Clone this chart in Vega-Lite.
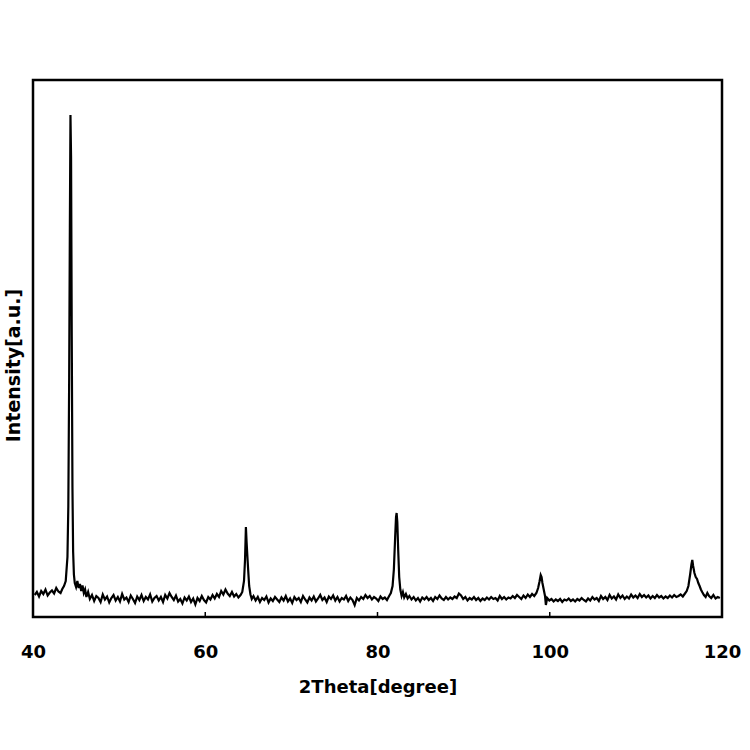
{
  "$schema": "https://vega.github.io/schema/vega-lite/v6.json",
  "autosize": "none",
  "width": 689,
  "height": 537,
  "padding": {"left": 33, "top": 80, "right": 28, "bottom": 133},
  "background": "white",
  "config": {
    "view": {"stroke": "black", "strokeWidth": 2.5},
    "font": "DejaVu Sans"
  },
  "datasets": {
    "ticks": [{"t": 60, "y0": 0, "y1": 10}, {"t": 80, "y0": 0, "y1": 10}, {"t": 100, "y0": 0, "y1": 10}],
    "xrd": [
    {"t":40.2,"i":44},{"t":40.45,"i":50},{"t":40.7,"i":41},{"t":40.95,"i":52},{"t":41.2,"i":46},{"t":41.45,"i":55},{"t":41.7,"i":43},{"t":41.95,"i":49},{"t":42.2,"i":53},{"t":42.45,"i":47},{"t":42.7,"i":58},{"t":42.95,"i":51},{"t":43.2,"i":48},{"t":43.4,"i":56},{"t":43.6,"i":62},{"t":43.8,"i":72},{"t":44.0,"i":120},{"t":44.1,"i":220},{"t":44.2,"i":480},{"t":44.28,"i":780},{"t":44.35,"i":1004},{"t":44.42,"i":920},{"t":44.5,"i":560},{"t":44.58,"i":260},{"t":44.66,"i":130},{"t":44.75,"i":85},{"t":44.85,"i":68},{"t":45.0,"i":60},{"t":45.15,"i":72},{"t":45.3,"i":58},{"t":45.45,"i":66},{"t":45.6,"i":52},{"t":45.75,"i":63},{"t":45.9,"i":48},{"t":46.05,"i":55},{"t":46.2,"i":40},{"t":46.4,"i":50},{"t":46.6,"i":36},{"t":46.85,"i":44},{"t":47.1,"i":32},{"t":47.35,"i":42},{"t":47.6,"i":38},{"t":47.85,"i":30},{"t":48.1,"i":45},{"t":48.35,"i":35},{"t":48.6,"i":41},{"t":48.85,"i":29},{"t":49.1,"i":38},{"t":49.35,"i":44},{"t":49.6,"i":33},{"t":49.85,"i":40},{"t":50.1,"i":31},{"t":50.35,"i":46},{"t":50.6,"i":35},{"t":50.85,"i":39},{"t":51.1,"i":30},{"t":51.35,"i":43},{"t":51.6,"i":36},{"t":51.85,"i":28},{"t":52.1,"i":41},{"t":52.35,"i":34},{"t":52.6,"i":44},{"t":52.85,"i":32},{"t":53.1,"i":40},{"t":53.35,"i":35},{"t":53.6,"i":45},{"t":53.85,"i":31},{"t":54.1,"i":38},{"t":54.35,"i":42},{"t":54.6,"i":33},{"t":54.85,"i":40},{"t":55.1,"i":30},{"t":55.35,"i":44},{"t":55.6,"i":37},{"t":55.85,"i":48},{"t":56.1,"i":40},{"t":56.35,"i":34},{"t":56.6,"i":43},{"t":56.85,"i":31},{"t":57.1,"i":36},{"t":57.35,"i":27},{"t":57.6,"i":39},{"t":57.85,"i":33},{"t":58.1,"i":41},{"t":58.35,"i":30},{"t":58.6,"i":37},{"t":58.85,"i":25},{"t":59.1,"i":38},{"t":59.35,"i":32},{"t":59.6,"i":42},{"t":59.85,"i":34},{"t":60.1,"i":29},{"t":60.35,"i":40},{"t":60.6,"i":35},{"t":60.85,"i":44},{"t":61.1,"i":37},{"t":61.35,"i":46},{"t":61.6,"i":40},{"t":61.85,"i":52},{"t":62.1,"i":45},{"t":62.35,"i":55},{"t":62.6,"i":47},{"t":62.85,"i":42},{"t":63.1,"i":50},{"t":63.35,"i":41},{"t":63.6,"i":46},{"t":63.85,"i":39},{"t":64.1,"i":44},{"t":64.3,"i":50},{"t":64.5,"i":72},{"t":64.62,"i":115},{"t":64.72,"i":180},{"t":64.8,"i":150},{"t":64.88,"i":125},{"t":64.98,"i":95},{"t":65.1,"i":62},{"t":65.25,"i":45},{"t":65.4,"i":36},{"t":65.6,"i":42},{"t":65.85,"i":33},{"t":66.1,"i":40},{"t":66.35,"i":30},{"t":66.6,"i":38},{"t":66.85,"i":34},{"t":67.1,"i":41},{"t":67.35,"i":29},{"t":67.6,"i":37},{"t":67.85,"i":32},{"t":68.1,"i":40},{"t":68.35,"i":35},{"t":68.6,"i":30},{"t":68.85,"i":39},{"t":69.1,"i":33},{"t":69.35,"i":42},{"t":69.6,"i":31},{"t":69.85,"i":37},{"t":70.1,"i":28},{"t":70.35,"i":40},{"t":70.6,"i":34},{"t":70.85,"i":38},{"t":71.1,"i":30},{"t":71.35,"i":42},{"t":71.6,"i":35},{"t":71.85,"i":29},{"t":72.1,"i":39},{"t":72.35,"i":33},{"t":72.6,"i":41},{"t":72.85,"i":31},{"t":73.1,"i":37},{"t":73.35,"i":44},{"t":73.6,"i":34},{"t":73.85,"i":39},{"t":74.1,"i":30},{"t":74.35,"i":41},{"t":74.6,"i":36},{"t":74.85,"i":43},{"t":75.1,"i":33},{"t":75.35,"i":40},{"t":75.6,"i":31},{"t":75.85,"i":38},{"t":76.1,"i":35},{"t":76.35,"i":42},{"t":76.6,"i":32},{"t":76.85,"i":39},{"t":77.1,"i":34},{"t":77.35,"i":24},{"t":77.6,"i":38},{"t":77.85,"i":33},{"t":78.1,"i":40},{"t":78.35,"i":36},{"t":78.6,"i":44},{"t":78.85,"i":38},{"t":79.1,"i":42},{"t":79.35,"i":35},{"t":79.6,"i":40},{"t":79.85,"i":37},{"t":80.1,"i":32},{"t":80.35,"i":41},{"t":80.6,"i":36},{"t":80.85,"i":39},{"t":81.1,"i":34},{"t":81.35,"i":42},{"t":81.55,"i":48},{"t":81.75,"i":62},{"t":81.9,"i":95},{"t":82.05,"i":160},{"t":82.15,"i":200},{"t":82.22,"i":208},{"t":82.3,"i":190},{"t":82.4,"i":135},{"t":82.52,"i":80},{"t":82.65,"i":55},{"t":82.8,"i":42},{"t":82.95,"i":50},{"t":83.1,"i":39},{"t":83.3,"i":46},{"t":83.5,"i":37},{"t":83.7,"i":42},{"t":83.95,"i":35},{"t":84.2,"i":40},{"t":84.45,"i":33},{"t":84.7,"i":38},{"t":84.95,"i":31},{"t":85.2,"i":39},{"t":85.45,"i":35},{"t":85.7,"i":40},{"t":85.95,"i":34},{"t":86.2,"i":38},{"t":86.45,"i":32},{"t":86.7,"i":40},{"t":86.95,"i":36},{"t":87.2,"i":43},{"t":87.45,"i":37},{"t":87.7,"i":34},{"t":87.95,"i":40},{"t":88.2,"i":35},{"t":88.45,"i":39},{"t":88.7,"i":36},{"t":88.95,"i":41},{"t":89.2,"i":38},{"t":89.45,"i":47},{"t":89.7,"i":43},{"t":89.95,"i":36},{"t":90.2,"i":40},{"t":90.45,"i":33},{"t":90.7,"i":38},{"t":90.95,"i":35},{"t":91.2,"i":40},{"t":91.45,"i":34},{"t":91.7,"i":38},{"t":91.95,"i":32},{"t":92.2,"i":37},{"t":92.45,"i":34},{"t":92.7,"i":39},{"t":92.95,"i":35},{"t":93.2,"i":40},{"t":93.45,"i":36},{"t":93.7,"i":38},{"t":93.95,"i":33},{"t":94.2,"i":42},{"t":94.45,"i":36},{"t":94.7,"i":40},{"t":94.95,"i":35},{"t":95.2,"i":39},{"t":95.45,"i":37},{"t":95.7,"i":42},{"t":95.95,"i":38},{"t":96.2,"i":44},{"t":96.45,"i":40},{"t":96.7,"i":36},{"t":96.95,"i":43},{"t":97.2,"i":38},{"t":97.45,"i":45},{"t":97.7,"i":40},{"t":97.95,"i":46},{"t":98.2,"i":42},{"t":98.45,"i":48},{"t":98.65,"i":58},{"t":98.8,"i":70},{"t":98.95,"i":84},{"t":99.05,"i":80},{"t":99.15,"i":68},{"t":99.3,"i":55},{"t":99.45,"i":42},{"t":99.55,"i":24},{"t":99.7,"i":38},{"t":99.95,"i":33},{"t":100.2,"i":36},{"t":100.45,"i":31},{"t":100.7,"i":35},{"t":100.95,"i":32},{"t":101.2,"i":36},{"t":101.45,"i":30},{"t":101.7,"i":35},{"t":101.95,"i":33},{"t":102.2,"i":37},{"t":102.45,"i":32},{"t":102.7,"i":35},{"t":102.95,"i":31},{"t":103.2,"i":36},{"t":103.45,"i":33},{"t":103.7,"i":38},{"t":103.95,"i":34},{"t":104.2,"i":31},{"t":104.45,"i":37},{"t":104.7,"i":33},{"t":104.95,"i":40},{"t":105.2,"i":35},{"t":105.45,"i":38},{"t":105.7,"i":32},{"t":105.95,"i":42},{"t":106.2,"i":36},{"t":106.45,"i":40},{"t":106.7,"i":34},{"t":106.95,"i":44},{"t":107.2,"i":37},{"t":107.45,"i":41},{"t":107.7,"i":35},{"t":107.95,"i":45},{"t":108.2,"i":38},{"t":108.45,"i":43},{"t":108.7,"i":36},{"t":108.95,"i":41},{"t":109.2,"i":37},{"t":109.45,"i":45},{"t":109.7,"i":39},{"t":109.95,"i":43},{"t":110.2,"i":38},{"t":110.45,"i":46},{"t":110.7,"i":40},{"t":110.95,"i":44},{"t":111.2,"i":39},{"t":111.45,"i":43},{"t":111.7,"i":37},{"t":111.95,"i":42},{"t":112.2,"i":38},{"t":112.45,"i":44},{"t":112.7,"i":39},{"t":112.95,"i":42},{"t":113.2,"i":37},{"t":113.45,"i":41},{"t":113.7,"i":38},{"t":113.95,"i":43},{"t":114.2,"i":39},{"t":114.45,"i":44},{"t":114.7,"i":40},{"t":114.95,"i":42},{"t":115.2,"i":45},{"t":115.45,"i":41},{"t":115.7,"i":47},{"t":115.9,"i":52},{"t":116.1,"i":62},{"t":116.3,"i":85},{"t":116.45,"i":105},{"t":116.55,"i":114},{"t":116.65,"i":102},{"t":116.8,"i":88},{"t":116.95,"i":80},{"t":117.1,"i":76},{"t":117.25,"i":68},{"t":117.4,"i":62},{"t":117.55,"i":55},{"t":117.7,"i":50},{"t":117.9,"i":44},{"t":118.1,"i":40},{"t":118.3,"i":48},{"t":118.5,"i":42},{"t":118.75,"i":38},{"t":119.0,"i":44},{"t":119.25,"i":37},{"t":119.5,"i":40},{"t":119.75,"i":38}
    ]
  },
  "layer": [
    {
      "data": {"name": "xrd"},
      "mark": {"type": "line", "color": "black", "strokeWidth": 2.2, "strokeJoin": "miter"},
      "encoding": {
        "x": {
          "field": "t", "type": "quantitative",
          "scale": {"domain": [40, 120], "nice": false, "zero": false},
          "axis": {
            "title": "2Theta[degree]",
            "values": [40, 60, 80, 100, 120],
            "domain": false,
            "grid": false,
            "ticks": false,
            "labelFont": "DejaVu Sans",
            "labelFontSize": 18,
            "labelFontWeight": "bold",
            "labelColor": "black",
            "labelPadding": 26,
            "labelFlush": false,
            "titleFont": "DejaVu Sans",
            "titleFontSize": 18,
            "titleFontWeight": "bold",
            "titleColor": "black",
            "titlePadding": 17
          }
        },
        "y": {
          "field": "i", "type": "quantitative",
          "scale": {"domain": [0, 1074], "nice": false},
          "axis": {
            "title": "Intensity[a.u.]",
            "labels": false,
            "ticks": false,
            "domain": false,
            "grid": false,
            "titleFont": "DejaVu Sans",
            "titleFontSize": 19,
            "titleFontWeight": "bold",
            "titleColor": "black",
            "titleAngle": -90,
            "titleAlign": "center",
            "titleBaseline": "alphabetic",
            "titleX": -14,
            "titleY": 285
          }
        }
      }
    },
    {
      "data": {"name": "ticks"},
      "mark": {"type": "rule", "color": "black", "strokeWidth": 1.5},
      "encoding": {
        "x": {"field": "t", "type": "quantitative"},
        "y": {"field": "y0", "type": "quantitative"},
        "y2": {"field": "y1"}
      }
    }
  ]
}
